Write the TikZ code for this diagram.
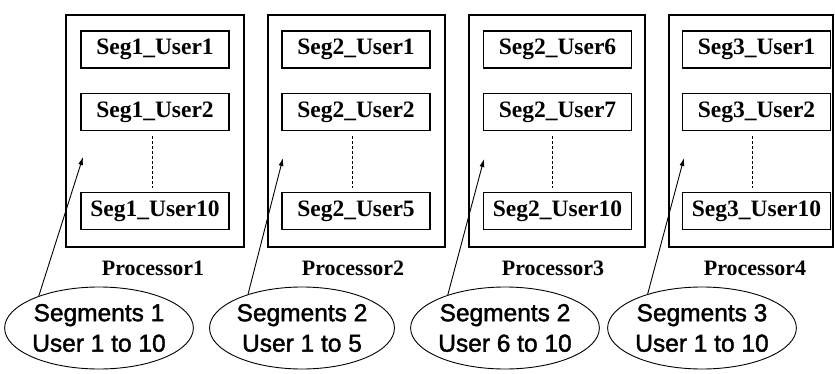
\documentclass[tikz,border=0pt]{standalone}
\usepackage{fontspec}
\setmainfont{Liberation Serif}
\newfontfamily\arialfont[FakeBold=1.6]{Liberation Sans}
\usetikzlibrary{shapes.geometric,arrows.meta}

\tikzset{
  procbox/.style={draw, line width=1.3pt, inner sep=0pt, minimum height=232pt},
  userbox/.style={draw, line width=1.3pt, inner sep=0pt, minimum width=148pt, minimum height=37pt,
                  font=\fontsize{23.5}{25}\selectfont\bfseries},
  proclabel/.style={font=\fontsize{22}{24}\selectfont\bfseries, inner sep=0pt},
  dots/.style={line width=0.8pt, dash pattern=on 3pt off 2pt},
  segellipse/.style={draw, ellipse, line width=0.9pt, inner sep=0pt,
                     minimum width=180pt, minimum height=82pt, align=center,
                     font=\arialfont\fontsize{24.5}{30.5}\selectfont},
  pointer/.style={line width=0.9pt, -{Latex[length=8pt,width=5pt]}}
}

\begin{document}
\begin{tikzpicture}[x=1pt,y=-1pt]
\useasboundingbox (0,0) rectangle (835,374);

% processor frames
\node[procbox, minimum width=178pt] (p1) at (155,131) {};
\node[procbox, minimum width=177pt] (p2) at (356.5,131) {};
\node[procbox, minimum width=176pt] (p3) at (557,131) {};
\node[procbox, minimum width=164pt] (p4) at (751,131) {};

% user boxes, three rows per processor
\node[userbox] (a1) at (155,49.5) {Seg1\_User1};
\node[userbox] (a2) at (155,112) {Seg1\_User2};
\node[userbox] (a3) at (155,211) {Seg1\_User10};

\node[userbox] (b1) at (356,49.5) {Seg2\_User1};
\node[userbox] (b2) at (356,112) {Seg2\_User2};
\node[userbox] (b3) at (356,211) {Seg2\_User5};

\node[userbox] (c1) at (557.5,49.5) {Seg2\_User6};
\node[userbox] (c2) at (557.5,112) {Seg2\_User7};
\node[userbox] (c3) at (557.5,211) {Seg2\_User10};

\node[userbox] (d1) at (756.5,49.5) {Seg3\_User1};
\node[userbox] (d2) at (756.5,112) {Seg3\_User2};
\node[userbox] (d3) at (756.5,211) {Seg3\_User10};

% elided users between the second and last box
\draw[dots] ([xshift=-3pt,yshift=-5pt]a2.south) -- ([xshift=-3pt,yshift=4pt]a3.north);
\draw[dots] ([xshift=-4pt,yshift=-5pt]b2.south) -- ([xshift=-4pt,yshift=4pt]b3.north);
\draw[dots] ([xshift=-5pt,yshift=-5pt]c2.south) -- ([xshift=-5pt,yshift=4pt]c3.north);
\draw[dots] ([xshift=-4pt,yshift=-5pt]d2.south) -- ([xshift=-4pt,yshift=4pt]d3.north);

% processor names
\node[proclabel] (l1) at (153,268) {Processor1};
\node[proclabel] (l2) at (353,268) {Processor2};
\node[proclabel] (l3) at (553,268) {Processor3};
\node[proclabel] (l4) at (755,268) {Processor4};

% segment groups
\node[segellipse] (e1) at (99,328) {Segments 1\\User 1 to 10};
\node[segellipse] (e2) at (302,328) {Segments 2\\User 1 to 5};
\node[segellipse] (e3) at (505,328) {Segments 2\\User 6 to 10};
\node[segellipse] (e4) at (702,328) {Segments 3\\User 1 to 10};

% targets inside the processor frames
\coordinate (t1) at (83,157);
\coordinate (t2) at (283,158);
\coordinate (t3) at (484,159);
\coordinate (t4) at (684,158);

\draw[pointer] (e1.152) -- (t1);
\draw[pointer] (e2.148) -- (t2);
\draw[pointer] (e3.150) -- (t3);
\draw[pointer] (e4.148) -- (t4);
\end{tikzpicture}
\end{document}
